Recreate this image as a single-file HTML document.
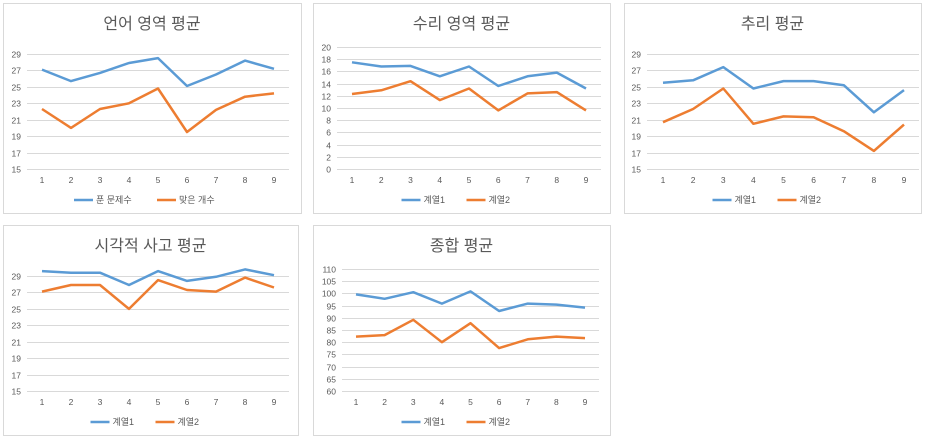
<!DOCTYPE html>
<html><head><meta charset="utf-8">
<style>
body{margin:0;background:#fff;width:936px;height:443px;overflow:hidden;font-family:"Liberation Sans","Noto Sans CJK KR",sans-serif;}
svg{position:absolute;left:0;top:0}
</style></head><body>
<svg id="s" width="936" height="443"></svg>
<script>
const cats=[1,2,3,4,5,6,7,8,9];
const titles=["언어 영역 평균","수리 영역 평균","추리 평균","시각적 사고 평균","종합 평균"];
const legend1=["푼 문제수","맞은 개수"];
const legendDefault=["계열1","계열2"];
const s1a=[27.1,25.7,26.7,27.9,28.5,25.1,26.5,28.2,27.2];
const s1b=[22.3,20.0,22.3,23.0,24.8,19.5,22.2,23.8,24.2];
const s2a=[17.5,16.8,16.9,15.2,16.8,13.6,15.2,15.8,13.2];
const s2b=[12.3,12.9,14.4,11.3,13.2,9.6,12.4,12.6,9.6];
const s3a=[25.5,25.8,27.4,24.8,25.7,25.7,25.2,21.9,24.6];
const s3b=[20.7,22.3,24.8,20.5,21.4,21.3,19.6,17.2,20.4];
const s4a=[29.6,29.4,29.4,27.9,29.6,28.4,28.9,29.8,29.1];
const s4b=[27.1,27.9,27.9,25.0,28.5,27.3,27.1,28.8,27.6];
const s5a=[99.6,97.8,100.5,95.8,100.8,92.8,95.8,95.4,94.2];
const s5b=[82.3,82.9,89.2,80.0,87.8,77.6,81.2,82.3,81.7];
const ticks1=[15,17,19,21,23,25,27,29];
const ticks2=[0,2,4,6,8,10,12,14,16,18,20];
const ticks5=[60,65,70,75,80,85,90,95,100,105,110];

const NS="http://www.w3.org/2000/svg";
const svg=document.getElementById('s');
function mk(tag,attrs,parent){const e=document.createElementNS(NS,tag);for(const k in attrs)e.setAttribute(k,attrs[k]);(parent||svg).appendChild(e);return e;}

const panels=[
 {box:[3,3,298,210],plot:[27,289],cx:[42,274],gy:[54,169],ticks:ticks1,top:29,title:titles[0],leg:legend1,a:s1a,b:s1b,name:"verbal"},
 {box:[313,3,297,210],plot:[337,601],cx:[352,586],gy:[47,169],ticks:ticks2,top:20,title:titles[1],leg:legendDefault,a:s2a,b:s2b,name:"math"},
 {box:[624,3,297,210],plot:[647,919],cx:[663,904],gy:[54,169],ticks:ticks1,top:29,title:titles[2],leg:legendDefault,a:s3a,b:s3b,name:"reasoning"},
 {box:[3,225,295,210],plot:[27,289],cx:[42,274],gy:[276,391],ticks:ticks1,top:29,title:titles[3],leg:legendDefault,a:s4a,b:s4b,name:"visual"},
 {box:[313,225,297,210],plot:[342,599],cx:[356,585],gy:[269,391],ticks:ticks5,top:110,title:titles[4],leg:legendDefault,a:s5a,b:s5b,name:"total"}
];
const colors=["#5B9BD5","#ED7D31"];
panels.forEach(p=>{
  const g=mk('g',{});
  
  
  const [bx,by,bw,bh]=p.box;
  mk('rect',{x:bx+0.5,y:by+0.5,width:bw,height:bh,fill:'#fff',stroke:'#d9d9d9'},g);
  const t=mk('text',{x:bx+bw/2,y:by+26,'text-anchor':'middle','font-size':16,fill:'#595959'},g);
  t.textContent=p.title;
  
  
  const lo=p.ticks[0],hi=p.top;
  const y=v=>p.gy[1]-(v-lo)/(hi-lo)*(p.gy[1]-p.gy[0]);
  const x=i=>p.cx[0]+i*(p.cx[1]-p.cx[0])/(cats.length-1);
  p.ticks.forEach(tv=>{
    const yy=Math.round(y(tv))+0.5;
    mk('line',{x1:p.plot[0],x2:p.plot[1],y1:yy,y2:yy,stroke:'#d9d9d9','stroke-width':1},g);
    const tl=mk('text',{x:p.plot[0]-6,y:yy+3,'text-anchor':'end','font-size':8.5,fill:'#595959'},g);
    tl.textContent=tv;
    
    
  });
  cats.forEach((c,i)=>{
    const tl=mk('text',{x:x(i),y:p.gy[1]+14,'text-anchor':'middle','font-size':8.5,fill:'#595959'},g);
    tl.textContent=c;
    
    
  });
  [p.a,p.b].forEach((ser,k)=>{
    const pl=mk('polyline',{points:ser.map((v,i)=>x(i).toFixed(1)+','+y(v).toFixed(1)).join(' '),fill:'none',stroke:colors[k],'stroke-width':2.5,'stroke-linejoin':'round'},g);
    
    
  });
  const ly=p.gy[1]+31;
  const w0=p.leg[0].length*9+28, w1=p.leg[1].length*9+28;
  let lx=bx+bw/2-(w0+w1+10)/2;
  p.leg.forEach((lab,k)=>{
    mk('line',{x1:lx,x2:lx+19,y1:ly,y2:ly,stroke:colors[k],'stroke-width':2.5},g);
    const lt=mk('text',{x:lx+22,y:ly+3,'font-size':9,fill:'#595959'},g);
    lt.textContent=lab;
    
    
    lx+=(k==0?w0:w1)+10;
  });
});
</script>
</body></html>
